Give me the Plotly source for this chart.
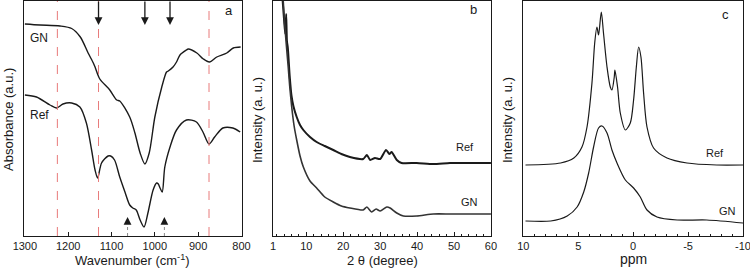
import plotly.graph_objects as go

# ---------------- Panel a: FTIR ----------------
ftir_gn_wn = [1300, 1265, 1219, 1192, 1172, 1154, 1142, 1138, 1127, 1104, 1088, 1081, 1058, 1046,
              1034, 1023, 1013, 1000, 984, 973, 969, 958, 950, 942, 927, 923, 903, 888, 874, 857,
              834, 819, 802]
ftir_gn_abs = [2.12, 2.11, 2.10, 2.075, 1.99, 1.83, 1.73, 1.69, 1.57, 1.46, 1.36, 1.35, 1.19, 1.03,
               0.83, 0.72, 0.83, 1.19, 1.49, 1.64, 1.65, 1.69, 1.74, 1.81, 1.86, 1.87, 1.83, 1.77,
               1.74, 1.79, 1.83, 1.88, 1.89]

ftir_ref_wn = [1300, 1273, 1242, 1227, 1212, 1192, 1173, 1158, 1146, 1138, 1132, 1123, 1108, 1102,
               1093, 1081, 1069, 1058, 1051, 1043, 1034, 1025, 1016, 1004, 996, 992, 988, 983, 977,
               965, 950, 927, 904, 889, 875, 862, 843, 820, 803]
ftir_ref_abs = [1.41, 1.39, 1.31, 1.28, 1.32, 1.33, 1.29, 1.13, 0.86, 0.66, 0.58, 0.73, 0.80, 0.80,
                0.76, 0.59, 0.44, 0.31, 0.28, 0.26, 0.16, 0.09, 0.23, 0.46, 0.53, 0.52, 0.48, 0.44,
                0.69, 0.89, 1.06, 1.16, 1.14, 1.04, 0.92, 0.99, 1.08, 1.08, 1.04]

ftir_ticks = [1300, 1200, 1100, 1000, 900, 800]
ftir_dashed_wn = [1225, 1130, 875]
ftir_down_arrow_wn = [1130, 1023, 965]
ftir_up_arrow_wn = [1063, 978]

# ---------------- Panel b: XRD ----------------
xrd_ref_theta = [3.4, 4.0, 4.3, 4.55, 4.75, 5.0, 5.5, 6.0, 6.5, 7.4, 8.3, 9.2, 11.0, 12.8, 15.0,
                 17.3, 19.5, 21.8, 25.4, 26.4, 27.3, 28.6, 30.0, 31.6, 32.5, 33.1, 34.5, 35.8,
                 39.9, 44.4, 48.9, 53.4, 60.0]
xrd_ref_int = [2.45, 2.15, 2.02, 2.22, 1.95, 1.88, 1.60, 1.40, 1.30, 1.19, 1.11, 1.06, 0.99, 0.94,
               0.90, 0.86, 0.82, 0.79, 0.77, 0.81, 0.76, 0.78, 0.77, 0.86, 0.82, 0.84, 0.76, 0.73,
               0.73, 0.72, 0.73, 0.73, 0.73]

xrd_gn_theta = [3.5, 4.0, 4.5, 5.1, 5.5, 6.05, 6.7, 7.4, 8.3, 9.2, 11.0, 12.8, 15.0, 17.3, 19.5,
                21.8, 25.4, 26.4, 27.7, 28.9, 30.0, 31.8, 32.7, 34.5, 36.3, 39.9, 44.4, 48.9,
                53.4, 60.0]
xrd_gn_int = [2.50, 2.20, 1.95, 1.69, 1.50, 1.29, 1.10, 0.96, 0.80, 0.69, 0.55, 0.48, 0.39, 0.34,
              0.30, 0.28, 0.26, 0.29, 0.24, 0.27, 0.25, 0.29, 0.28, 0.23, 0.20, 0.20, 0.22, 0.22,
              0.22, 0.22]
xrd_ticks = [1, 10, 20, 30, 40, 50, 60]

# ---------------- Panel c: NMR ----------------
nmr_ref_ppm = [9.8, 6.6, 5.4, 4.66, 4.2, 3.75, 3.5, 3.3, 3.15, 2.9, 2.7, 2.38, 2.08, 1.93, 1.72,
               1.66, 1.42, 1.17, 0.71, 0.26, -0.04, -0.29, -0.5, -0.71, -0.95, -1.26, -1.86,
               -3.08, -4.9, -7.6, -10.0]
nmr_ref_int = [0.71, 0.73, 0.78, 0.89, 1.09, 1.53, 1.93, 2.09, 2.01, 2.24, 2.03, 1.69, 1.49, 1.46,
               1.59, 1.66, 1.49, 1.23, 1.06, 1.13, 1.36, 1.69, 1.89, 1.79, 1.43, 1.09, 0.88,
               0.78, 0.73, 0.71, 0.71]

nmr_gn_ppm = [9.8, 7.5, 6.0, 5.1, 4.5, 4.05, 3.6, 3.15, 2.84, 2.38, 1.93, 1.47, 0.71, -0.04,
              -0.65, -1.26, -2.17, -4.0, -6.7, -10.0]
nmr_gn_int = [0.15, 0.15, 0.20, 0.29, 0.44, 0.63, 0.89, 1.08, 1.10, 1.03, 0.86, 0.73, 0.56, 0.48,
              0.39, 0.26, 0.19, 0.16, 0.16, 0.13]
nmr_ticks = [10, 5, 0, -5, -10]
nmr_tick_labels = ["10", "5", "0", "-5", "-10"]

FONT = "Liberation Sans, Arial, sans-serif"
INK = "#1a1a1a"

fig = go.Figure()

fig.add_trace(go.Scatter(x=ftir_gn_wn, y=ftir_gn_abs, xaxis="x", yaxis="y", mode="lines",
                         line=dict(color=INK, width=1.4, shape="spline", smoothing=0.8)))
fig.add_trace(go.Scatter(x=ftir_ref_wn, y=ftir_ref_abs, xaxis="x", yaxis="y", mode="lines",
                         line=dict(color=INK, width=1.4, shape="spline", smoothing=0.8)))
fig.add_trace(go.Scatter(x=xrd_ref_theta, y=xrd_ref_int, xaxis="x2", yaxis="y2", mode="lines",
                         line=dict(color=INK, width=2.0, shape="spline", smoothing=0.6)))
fig.add_trace(go.Scatter(x=xrd_gn_theta, y=xrd_gn_int, xaxis="x2", yaxis="y2", mode="lines",
                         line=dict(color="#333333", width=1.6, shape="spline", smoothing=0.6)))
fig.add_trace(go.Scatter(x=nmr_ref_ppm, y=nmr_ref_int, xaxis="x3", yaxis="y3", mode="lines",
                         line=dict(color=INK, width=1.2, shape="spline", smoothing=0.8)))
fig.add_trace(go.Scatter(x=nmr_gn_ppm, y=nmr_gn_int, xaxis="x3", yaxis="y3", mode="lines",
                         line=dict(color=INK, width=1.2, shape="spline", smoothing=0.8)))

YDOM = [1 - 236 / 271, 1 - 1 / 271]
common_x = dict(showline=True, mirror=True, linecolor=INK, linewidth=1, ticks="inside",
                ticklen=4, tickcolor=INK, showgrid=False, zeroline=False, automargin=False,
                ticklabeloverflow="allow",
                tickfont=dict(family=FONT, size=11, color=INK))
common_y = dict(showline=True, mirror=True, linecolor=INK, linewidth=1, ticks="",
                showticklabels=False, showgrid=False, zeroline=False, range=[0, 2.35],
                automargin=False)

fig.update_layout(
    width=750, height=271, margin=dict(l=0, r=0, t=0, b=0, pad=0), autosize=False,
    paper_bgcolor="white", plot_bgcolor="white", showlegend=False,
    font=dict(family=FONT, color=INK),
    xaxis=dict(common_x, domain=[24 / 750, 241.5 / 750], range=[1302, 800],
               tickvals=ftir_ticks, anchor="y"),
    yaxis=dict(common_y, domain=YDOM, anchor="x"),
    xaxis2=dict(common_x, domain=[272.7 / 750, 491.3 / 750], range=[0.9, 60.1],
                tickvals=xrd_ticks, anchor="y2",
                minor=dict(tickmode="linear", tick0=0, dtick=2, ticks="inside", ticklen=2,
                           tickcolor=INK)),
    yaxis2=dict(common_y, domain=YDOM, anchor="x2"),
    xaxis3=dict(common_x, domain=[523.3 / 750, 743 / 750], range=[10, -10],
                tickvals=nmr_ticks, ticktext=nmr_tick_labels, anchor="y3",
                minor=dict(tickmode="linear", tick0=0, dtick=1, ticks="inside", ticklen=2,
                           tickcolor=INK)),
    yaxis3=dict(common_y, domain=YDOM, anchor="x3"),
)

shapes = []
for wn in ftir_dashed_wn:
    shapes.append(dict(type="line", xref="x", yref="y", x0=wn, x1=wn, y0=0, y1=2.35,
                       line=dict(color="#e87a7a", width=1, dash="dash")))
for wn in ftir_up_arrow_wn:
    shapes.append(dict(type="line", xref="x", yref="y", x0=wn, x1=wn, y0=0, y1=0.12,
                       line=dict(color="#888888", width=1, dash="dot")))
fig.update_layout(shapes=shapes)

ann = []
for wn in ftir_down_arrow_wn:
    ann.append(dict(x=wn, y=2.11, ax=wn, ay=2.36, xref="x", yref="y", axref="x", ayref="y",
                    text="", showarrow=True, arrowhead=2, arrowsize=1.2, arrowwidth=1.3,
                    arrowcolor=INK))
for wn in ftir_up_arrow_wn:
    ann.append(dict(x=wn, y=0.19, ax=wn, ay=0.11, xref="x", yref="y", axref="x", ayref="y",
                    text="", showarrow=True, arrowhead=2, arrowsize=1.2, arrowwidth=1.3,
                    arrowcolor=INK))


def label(text, x, y, xr, yr, size=12, xanchor="left"):
    return dict(text=text, x=x, y=y, xref=xr, yref=yr, showarrow=False, xanchor=xanchor,
                yanchor="middle", font=dict(family=FONT, size=size, color=INK))


ann += [
    label("GN", 1293, 1.98, "x", "y"),
    label("Ref", 1293, 1.21, "x", "y"),
    label("a", 829, 2.25, "x", "y", 13, "center"),
    label("Ref", 50, 0.89, "x2", "y2", 11),
    label("GN", 51.4, 0.34, "x2", "y2", 11),
    label("b", 55.2, 2.26, "x2", "y2", 13, "center"),
    label("Ref", -6.41, 0.83, "x3", "y3", 11),
    label("GN", -7.63, 0.25, "x3", "y3", 11),
    label("c", -8.4, 2.21, "x3", "y3", 13, "center"),
]


def title(text, xpx, ypx, angle=0, size=13):
    return dict(text=text, x=xpx / 750, y=1 - ypx / 271, xref="paper", yref="paper",
                showarrow=False, xanchor="center", yanchor="middle", textangle=angle,
                font=dict(family=FONT, size=size, color=INK))


ann += [
    title("Wavenumber (cm<sup>-1</sup>)", 132, 260),
    title("2 θ (degree)", 382, 260),
    title("ppm", 633, 259, size=14),
    title("Absorbance (a.u.)", 8, 120, -90),
    title("Intensity (a. u.)", 257, 120, -90),
    title("Intensity (a. u.)", 507, 120, -90),
]
fig.update_layout(annotations=ann)

fig.write_html("out.html", config={"displayModeBar": False},
               post_script="document.body.style.margin='0';document.body.style.padding='0';")
